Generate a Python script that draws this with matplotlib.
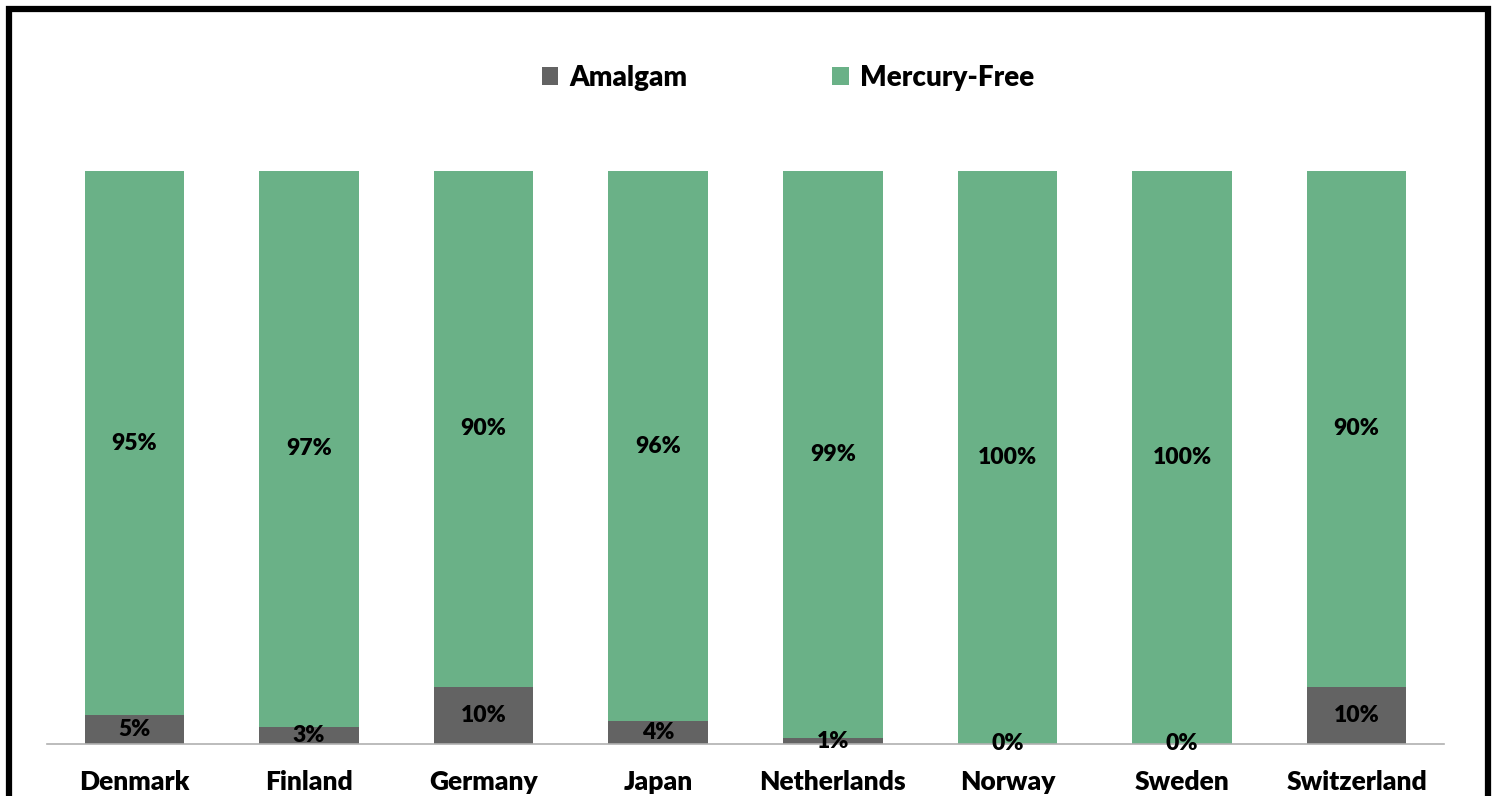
import numpy as np
import matplotlib
matplotlib.use("Agg")
import matplotlib.pyplot as plt
from matplotlib.patches import Rectangle

countries = ["Denmark", "Finland", "Germany", "Japan", "Netherlands", "Norway", "Sweden", "Switzerland"]
amalgam = [5, 3, 10, 4, 1, 0, 0, 10]
mercury_free = [95, 97, 90, 96, 99, 100, 100, 90]

gray = "#636363"
green = "#6AB187"

plt.rcParams['font.family'] = ['Lato', 'DejaVu Sans']
plt.rcParams['font.weight'] = 'heavy'

W, H = 1492, 796
fig = plt.figure(figsize=(W / 100, H / 100), dpi=100)
ax = fig.add_axes([47 / W, 1 - 744 / H, (1444 - 47) / W, (744 - 171) / H])

x = np.arange(len(countries))
b1 = ax.bar(x, amalgam, width=0.57, color=gray, label="Amalgam")
b2 = ax.bar(x, mercury_free, width=0.57, bottom=amalgam, color=green, label="Mercury-Free")

for i in range(len(countries)):
    ax.text(x[i], amalgam[i] / 2, f"{amalgam[i]}%", ha="center", va="center",
            fontsize=16.5, fontweight="heavy", color="black")
    ax.text(x[i], amalgam[i] + mercury_free[i] / 2, f"{mercury_free[i]}%", ha="center",
            va="center", fontsize=16.5, fontweight="heavy", color="black")

ax.set_xlim(-0.5, len(countries) - 0.5)
ax.set_ylim(0, 100)
ax.set_xticks(x)
ax.set_xticklabels(countries, fontsize=19, fontweight="heavy")
ax.tick_params(axis="x", length=0, pad=19)
ax.set_yticks([])
for s in ["top", "right", "left"]:
    ax.spines[s].set_visible(False)
ax.spines["bottom"].set_color("#b0b0b0")
ax.spines["bottom"].set_linewidth(1.2)

fig.legend(handles=[b1, b2], loc="center", bbox_to_anchor=(0.528, 1 - 78 / H), ncol=2,
           frameon=False, handlelength=0.6, handleheight=0.6,
           handletextpad=0.4, columnspacing=5.2, prop={'weight': 'heavy', 'size': 20})

# black frame around the chart
fig.patches.append(Rectangle((9 / W, -0.05), (1488 - 9) / W, 1.05 - 9 / H,
                             transform=fig.transFigure, fill=False,
                             edgecolor="black", linewidth=4.5, clip_on=False))

fig.savefig("out.png", dpi=100)
